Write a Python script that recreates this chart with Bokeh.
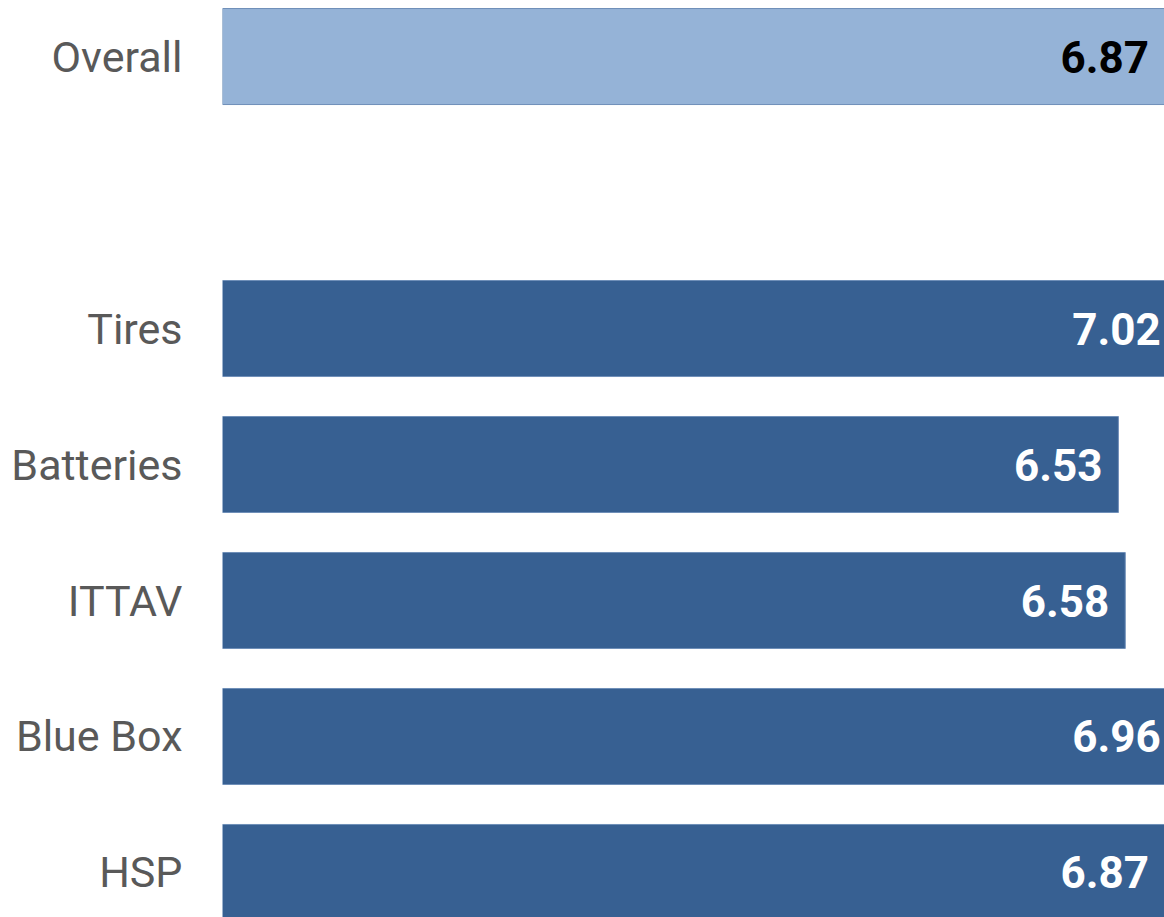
from bokeh.plotting import figure
from bokeh.models import ColumnDataSource, Range1d, FixedTicker
from bokeh.core.properties import value
from bokeh.embed import file_html
from bokeh.resources import INLINE

# ---- data ----
categories = ["Overall", "", "Tires", "Batteries", "ITTAV", "Blue Box", "HSP"]
scores = [6.87, None, 7.02, 6.53, 6.58, 6.96, 6.87]
bar_colors = ["#95B3D7", None, "#376092", "#376092", "#376092", "#376092", "#376092"]
label_colors = ["#000000", None, "#ffffff", "#ffffff", "#ffffff", "#ffffff", "#ffffff"]

X_END = 6.866
LABEL_MAX = X_END + 0.09  # keep value labels inside the visible frame

rows = [(i, c, s, bc, lc) for i, (c, s, bc, lc) in
        enumerate(zip(categories, scores, bar_colors, label_colors)) if s is not None]
src = ColumnDataSource(dict(
    y=[r[0] for r in rows],
    cat=[r[1] for r in rows],
    val=[r[2] for r in rows],
    lx=[min(r[2], LABEL_MAX) for r in rows],
    color=[r[3] for r in rows],
    lcolor=[r[4] for r in rows],
    txt=["%.2f" % r[2] for r in rows],
))

p = figure(width=1164, height=917, output_backend="svg", toolbar_location=None,
           x_range=Range1d(0, X_END), y_range=Range1d(6.331, -0.412),
           x_axis_location=None, min_border_left=222, min_border_right=0,
           min_border_top=0, min_border_bottom=0)
p.outline_line_color = None
p.grid.visible = False
p.background_fill_color = "white"

p.hbar(y="y", left=0, right="val", height=0.706, source=src,
       fill_color="color", line_color="#6f8fb8", line_width=1)

p.text(x="lx", y="y", text="txt", source=src, x_offset=-16,
       text_align="right", text_baseline="middle",
       text_font=value("Roboto"), text_font_style="bold",
       text_font_size="44px", text_color="lcolor")

ax = p.yaxis[0]
ax.ticker = FixedTicker(ticks=list(range(len(categories))))
ax.major_label_overrides = {i: c for i, c in enumerate(categories)}
ax.axis_line_color = None
ax.major_tick_line_color = None
ax.minor_tick_line_color = None
ax.major_tick_out = 0
ax.major_tick_in = 0
ax.major_label_standoff = 40
ax.major_label_text_font = "Roboto"
ax.major_label_text_font_size = "43px"
ax.major_label_text_color = "#595959"

open("out.html", "w").write(file_html(p, INLINE))
